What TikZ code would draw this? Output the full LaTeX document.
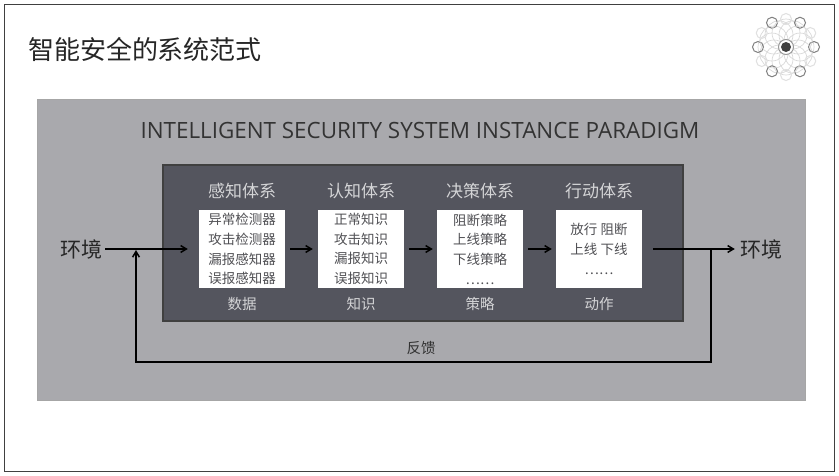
\documentclass[tikz,border=0pt]{standalone}
\usepackage{fontspec}
\usepackage{tikz}
\usetikzlibrary{arrows.meta, positioning}
\newfontfamily\cjk{Noto Sans CJK SC}
\newfontfamily\latinlight{Open Sans}
\definecolor{panelgray}{HTML}{A9A9AD}
\definecolor{coregray}{HTML}{54555E}
\definecolor{headgray}{HTML}{D4D4D6}
\definecolor{listgray}{HTML}{505054}

\begin{document}
\begin{tikzpicture}[
    x=1pt, y=-1pt,
    framebox/.style={rectangle, draw=black!75, line width=1pt, fill=white, minimum width=830pt,
                     minimum height=467pt},
    panelbox/.style={rectangle, draw=black!35, line width=1pt, fill=panelgray, minimum width=768pt,
                     minimum height=301pt},
    corebox/.style={rectangle, draw=black!75, line width=1.2pt, fill=coregray, minimum width=520pt,
                    minimum height=156pt},
    listbox/.style={rectangle, fill=white, inner sep=0pt, minimum width=86pt, minimum height=78pt,
                    align=center, text=listgray, font=\cjk\fontsize{13.5}{19.7}\selectfont},
    headlabel/.style={text=headgray, inner sep=0pt, font=\cjk\fontsize{17}{20}\selectfont},
    footlabel/.style={text=headgray, inner sep=0pt, font=\cjk\fontsize{14.5}{18}\selectfont},
    envlabel/.style={text=black!85, inner sep=3pt, font=\cjk\fontsize{21}{24}\selectfont},
    arrow/.style={-{Straight Barb[length=2mm, width=2.4mm]}, line width=1.5pt, black},
    logoring/.style={draw=black!45, line width=0.7pt}
]
    \useasboundingbox (0,0) rectangle (839,475);

    % Frames
    \node[framebox] (frame) at (419,238) {};
    \node[panelbox] (panel) at (421,249.5) {};
    \node[corebox] (core) at (423,243) {};

    % Titles
    \node[inner sep=0pt, text=black!85, font=\cjk\fontsize{26}{30}\selectfont] (title) at (145,49) {智能安全的系统范式};
    \node[inner sep=0pt, text=black!80, font=\latinlight\fontsize{22.4}{26}\selectfont] (paradigm) at (420,130)
        {INTELLIGENT SECURITY SYSTEM INSTANCE PARADIGM};

    % Logo
    \foreach \ang [count=\i] in {0,30,...,330} {
        \draw[logoring, black!15] (786,47) ++(\ang:14) circle (14);
        \ifodd\i
            \draw[logoring, black!50, line width=1pt] (786,47) ++(\ang:28) circle (5.5);
        \else
            \draw[logoring, black!12, line width=1pt] (786,47) ++(\ang:28) circle (5.5);
        \fi
    }
    \draw[black!40, line width=1pt, fill=white] (786,47) circle (7.5);
    \fill[black!75] (786,47) circle (5);

    % Boxes
    \node[listbox] (sense) at (242,249) {异常检测器\\攻击检测器\\漏报感知器\\误报感知器};
    \node[listbox] (know) at (361,249) {正常知识\\攻击知识\\漏报知识\\误报知识};
    \node[listbox] (decide) at (480,249) {阻断策略\\上线策略\\下线策略\\……};
    \node[listbox] (act) at (599,249) {放行 阻断\\上线 下线\\……};

    % Heads
    \node[headlabel] (sensehead) at (242,191) {感知体系};
    \node[headlabel] (knowhead) at (361,191) {认知体系};
    \node[headlabel] (decidehead) at (480,191) {决策体系};
    \node[headlabel] (acthead) at (599,191) {行动体系};

    % Feet
    \node[footlabel] (sensefoot) at (242,304) {数据};
    \node[footlabel] (knowfoot) at (361,304) {知识};
    \node[footlabel] (decidefoot) at (480,304) {策略};
    \node[footlabel] (actfoot) at (599,304) {动作};

    % Environment
    \node[envlabel] (envin) at (81,249) {环境};
    \node[envlabel] (envout) at (761,249) {环境};
    \node[text=black!80, inner sep=0pt, font=\cjk\fontsize{14.5}{18}\selectfont] (feedback) at (421,348) {反馈};

    \coordinate (fbstart) at (711,249);
    \coordinate (fbright) at (711,362);
    \coordinate (fbleft) at (136,362);
    \coordinate (fbend) at (136,250);

    \draw[arrow, shorten >=11pt] (envin) -- (sense);
    \draw[arrow, shorten <=5pt, shorten >=5pt] (sense) -- (know);
    \draw[arrow, shorten <=5pt, shorten >=4pt] (know) -- (decide);
    \draw[arrow, shorten <=5pt, shorten >=4pt] (decide) -- (act);
    \draw[arrow, shorten <=11pt, shorten >=2pt] (act) -- (envout);
    \draw[arrow] (fbstart) -- (fbright) -- (fbleft) -- (fbend);
\end{tikzpicture}
\end{document}
